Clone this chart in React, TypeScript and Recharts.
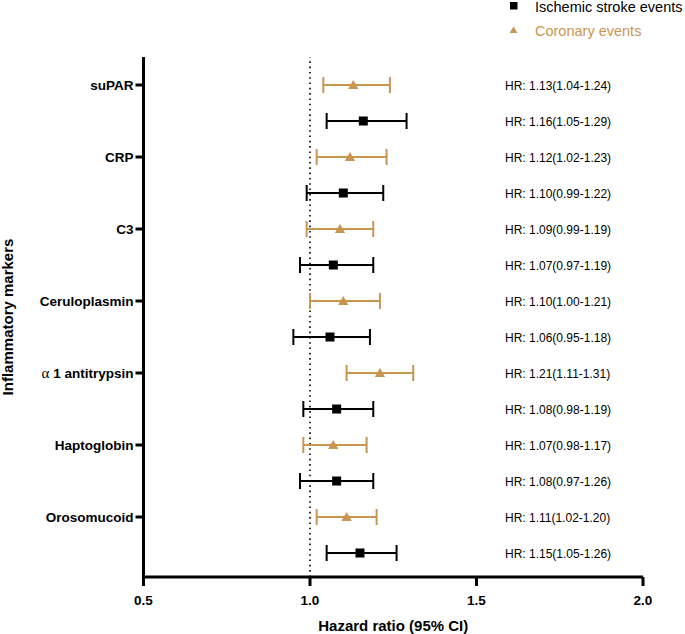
import React from "react";
import {
  ScatterChart,
  Scatter,
  XAxis,
  YAxis,
  ErrorBar,
  ReferenceLine,
  Legend,
  Label,
} from "recharts";

const markers = [
  "suPAR",
  "CRP",
  "C3",
  "Ceruloplasmin",
  "α 1 antitrypsin",
  "Haptoglobin",
  "Orosomucoid",
];

// coronary events
const coronaryHR = [1.13, 1.12, 1.09, 1.1, 1.21, 1.07, 1.11];
const coronaryLow = [1.04, 1.02, 0.99, 1.0, 1.11, 0.98, 1.02];
const coronaryHigh = [1.24, 1.23, 1.19, 1.21, 1.31, 1.17, 1.2];
const coronaryText = [
  "HR: 1.13(1.04-1.24)",
  "HR: 1.12(1.02-1.23)",
  "HR: 1.09(0.99-1.19)",
  "HR: 1.10(1.00-1.21)",
  "HR: 1.21(1.11-1.31)",
  "HR: 1.07(0.98-1.17)",
  "HR: 1.11(1.02-1.20)",
];

// ischemic stroke events (haptoglobin bar is drawn to 1.19 in the figure)
const strokeHR = [1.16, 1.1, 1.07, 1.06, 1.08, 1.08, 1.15];
const strokeLow = [1.05, 0.99, 0.97, 0.95, 0.98, 0.97, 1.05];
const strokeHigh = [1.29, 1.22, 1.19, 1.18, 1.19, 1.19, 1.26];
const strokeText = [
  "HR: 1.16(1.05-1.29)",
  "HR: 1.10(0.99-1.22)",
  "HR: 1.07(0.97-1.19)",
  "HR: 1.06(0.95-1.18)",
  "HR: 1.08(0.98-1.19)",
  "HR: 1.08(0.97-1.26)",
  "HR: 1.15(1.05-1.26)",
];

const xTicks = [0.5, 1.0, 1.5, 2.0];

const GOLD = "#C9964F";
const FONT = "'Liberation Sans', Arial, Helvetica, sans-serif";

const coronaryData = markers.map((_, i) => ({
  hr: coronaryHR[i],
  row: i * 2,
  err: [coronaryHR[i] - coronaryLow[i], coronaryHigh[i] - coronaryHR[i]],
  text: coronaryText[i],
}));

const strokeData = markers.map((_, i) => ({
  hr: strokeHR[i],
  row: i * 2 + 1,
  err: [strokeHR[i] - strokeLow[i], strokeHigh[i] - strokeHR[i]],
  text: strokeText[i],
}));

const HR_TEXT_X = 505;

const SquareShape = (props: any) => {
  const { cx, cy, payload } = props;
  return (
    <g>
      <rect x={cx - 4.5} y={cy - 4.5} width={9} height={9} fill="#000" />
      <text
        x={HR_TEXT_X}
        y={cy + 5}
        fontSize={12}
        fontFamily={FONT}
        fill="#000"
      >
        {payload.text}
      </text>
    </g>
  );
};

const TriangleShape = (props: any) => {
  const { cx, cy, payload } = props;
  return (
    <g>
      <polygon
        points={`${cx},${cy - 5} ${cx + 5.2},${cy + 4} ${cx - 5.2},${cy + 4}`}
        fill={GOLD}
      />
      <text
        x={HR_TEXT_X}
        y={cy + 5}
        fontSize={12}
        fontFamily={FONT}
        fill="#000"
      >
        {payload.text}
      </text>
    </g>
  );
};

const MarkerTick = (props: any) => {
  const { x, y, payload } = props;
  const name = markers[Math.round(payload.value / 2)] ?? "";
  if (name.startsWith("α")) {
    return (
      <text
        x={x}
        y={y}
        dy="0.35em"
        textAnchor="end"
        fontSize={13.5}
        fontWeight="bold"
        fontFamily={FONT}
        fill="#000"
      >
        <tspan
          fontFamily="'Liberation Serif', 'Times New Roman', serif"
          fontWeight="normal"
          fontSize={15}
        >
          α
        </tspan>
        <tspan>{name.slice(1)}</tspan>
      </text>
    );
  }
  return (
    <text
      x={x}
      y={y}
      dy="0.35em"
      textAnchor="end"
      fontSize={13.5}
      fontWeight="bold"
      fontFamily={FONT}
      fill="#000"
    >
      {name}
    </text>
  );
};

const LegendBox = () => (
  <svg width={180} height={42} style={{ overflow: "visible" }}>
    <rect x={5} y={2} width={7.5} height={7.5} fill="#000" />
    <text x={30} y={12} fontSize={14.5} fontFamily={FONT} fill="#000">
      Ischemic stroke events
    </text>
    <polygon points="8.5,26.5 12.5,33 4.5,33" fill={GOLD} />
    <text x={30} y={35.5} fontSize={14.5} fontFamily={FONT} fill={GOLD}>
      Coronary events
    </text>
  </svg>
);

export default function App() {
  return (
    <div
      style={{
        position: "absolute",
        left: 0,
        top: 0,
        width: 685,
        height: 634,
        background: "#fff",
      }}
    >
      <ScatterChart
        width={685}
        height={634}
        margin={{ top: 57, right: 42, left: 0.5, bottom: 0 }}
      >
        <XAxis
          type="number"
          dataKey="hr"
          domain={[0.5, 2]}
          ticks={xTicks}
          allowDataOverflow
          height={57}
          tickFormatter={(v: number) => v.toFixed(1)}
          axisLine={{ stroke: "#000", strokeWidth: 3 }}
          tickLine={{ stroke: "#000", strokeWidth: 3 }}
          tickSize={9}
          tickMargin={9}
          tick={{
            fontSize: 13.5,
            fontWeight: "bold",
            fill: "#000",
            fontFamily: FONT,
          }}
        >
          <Label
            content={(p: any) => {
              const vb = p.viewBox;
              return (
                <text
                  x={vb.x + vb.width / 2}
                  y={631}
                  textAnchor="middle"
                  fontSize={15}
                  fontWeight="bold"
                  fontFamily={FONT}
                  fill="#000"
                >
                  Hazard ratio (95% CI)
                </text>
              );
            }}
          />
        </XAxis>
        <YAxis
          type="number"
          dataKey="row"
          reversed
          domain={[-0.7778, 13.6667]}
          allowDataOverflow
          ticks={[0, 2, 4, 6, 8, 10, 12]}
          interval={0}
          width={143}
          axisLine={{ stroke: "#000", strokeWidth: 3 }}
          tickLine={{ stroke: "#000", strokeWidth: 3 }}
          tickSize={8}
          tickMargin={2}
          tick={<MarkerTick />}
        >
          <Label
            content={(p: any) => {
              const vb = p.viewBox;
              const cy = vb.y + vb.height / 2;
              return (
                <text
                  x={13}
                  y={cy}
                  transform={`rotate(-90, 13, ${cy})`}
                  textAnchor="middle"
                  fontSize={15}
                  fontWeight="bold"
                  fontFamily={FONT}
                  fill="#000"
                >
                  Inflammatory markers
                </text>
              );
            }}
          />
        </YAxis>
        <ReferenceLine
          x={1}
          stroke="#000"
          strokeWidth={1.6}
          strokeDasharray="1.6 3.7"
        />
        <Legend
          layout="horizontal"
          verticalAlign="middle"
          align="center"
          content={<LegendBox />}
          wrapperStyle={{ position: "absolute", top: 0, left: 505, width: 180, height: 42 }}
        />
        <Scatter
          name="Coronary events"
          data={coronaryData}
          fill={GOLD}
          shape={TriangleShape}
          isAnimationActive={false}
        >
          <ErrorBar
            dataKey="err"
            direction="x"
            width={8}
            stroke={GOLD}
            strokeWidth={2}
            isAnimationActive={false}
          />
        </Scatter>
        <Scatter
          name="Ischemic stroke events"
          data={strokeData}
          fill="#000"
          shape={SquareShape}
          isAnimationActive={false}
        >
          <ErrorBar
            dataKey="err"
            direction="x"
            width={8}
            stroke="#000"
            strokeWidth={2}
            isAnimationActive={false}
          />
        </Scatter>
      </ScatterChart>
    </div>
  );
}
